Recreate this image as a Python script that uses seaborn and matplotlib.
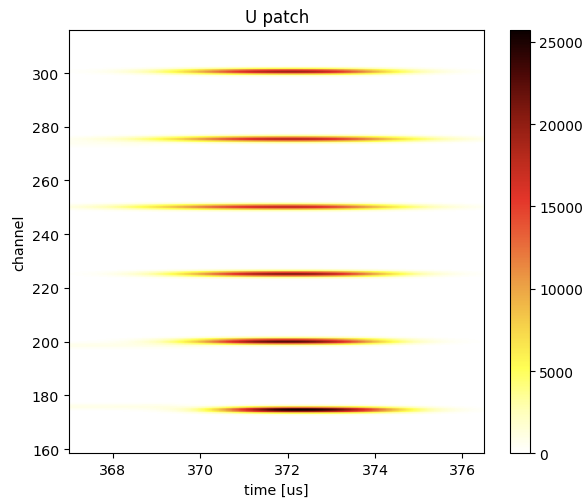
import numpy as np
import pandas as pd
import matplotlib
matplotlib.use("Agg")
import matplotlib.pyplot as plt
from matplotlib.colors import LinearSegmentedColormap
import seaborn as sns

# ---- data ----
streak_channel = [174.6, 200.1, 225.2, 250.2, 275.4, 300.6]
streak_peak = [25700, 22500, 20000, 17000, 17500, 19000]
streak_time = [372.25, 372.0, 372.1, 372.0, 372.1, 372.1]
streak_sigma_left = [1.3, 1.5, 1.75, 2.2, 2.0, 1.8]
streak_sigma_right = [1.6, 1.5, 1.6, 1.75, 1.85, 1.6]
streak_shape = [2.3, 2.2, 2.2, 2.1, 2.1, 2.2]
streak_width_ch = [0.75, 0.75, 0.75, 0.75, 0.75, 0.75]

tail_channel = [175.8, 198.6, 273.6]
tail_end = [369.0, 369.5, 368.5]
tail_amp = [900, 800, 500]

time_range = (367.0, 376.5)
channel_range = (158.4, 315.9)
x_ticks = [368, 370, 372, 374, 376]
y_ticks = [160, 180, 200, 220, 240, 260, 280, 300]
cbar_ticks = [0, 5000, 10000, 15000, 20000, 25000]

# ---- grid ----
dt, dc = 0.02, 0.25
t_edges = np.arange(time_range[0], time_range[1] + dt / 2, dt)
c_edges = np.arange(channel_range[0], channel_range[1] + dc / 2, dc)
t = (t_edges[:-1] + t_edges[1:]) / 2
c = (c_edges[:-1] + c_edges[1:]) / 2
T, C = np.meshgrid(t, c)

Z = np.zeros_like(T)
for ch, A, tc, sl, sr, p, w in zip(streak_channel, streak_peak, streak_time,
                                   streak_sigma_left, streak_sigma_right,
                                   streak_shape, streak_width_ch):
    d = T - tc
    sig = np.where(d < 0, sl, sr)
    Z += A * np.exp(-0.5 * np.abs(d / sig) ** p) * np.exp(-0.5 * ((C - ch) / w) ** 2)
for ch, te, A in zip(tail_channel, tail_end, tail_amp):
    prof = np.exp(-0.5 * (np.clip(T - te, 0, None) / 0.5) ** 2)
    Z += A * prof * np.exp(-0.5 * ((C - ch) / 0.8) ** 2)

df = pd.DataFrame(Z, index=c, columns=t)

# colour map sampled from the reference colour bar (white -> yellow -> red -> black)
cmap = LinearSegmentedColormap.from_list("ref_hot", [
    (0.00, "#ffffff"), (0.10, "#ffffb8"), (0.20, "#ffff55"), (0.30, "#f6d24a"),
    (0.40, "#eb9f45"), (0.50, "#e8683a"), (0.60, "#e4352a"), (0.70, "#b82a1c"),
    (0.80, "#861a10"), (0.90, "#4a0806"), (1.00, "#0c0000")])

# ---- figure ----
W, H = 585, 502
fig = plt.figure(figsize=(W / 100, H / 100), dpi=100)
ax = fig.add_axes([69 / W, (H - 454.3) / H, (484.3 - 69) / W, (454.3 - 31.3) / H])
cax = fig.add_axes([510 / W, (H - 454.3) / H, 20 / W, (454.3 - 31.3) / H])

sns.heatmap(df, ax=ax, cbar_ax=cax, cmap=cmap, vmin=0, vmax=max(streak_peak),
            xticklabels=False, yticklabels=False, linewidths=0, rasterized=True)

ax.set_ylim(0, len(c))
ax.set_xlim(0, len(t))
ax.set_xticks([(v - time_range[0]) / dt for v in x_ticks])
ax.set_xticklabels([str(v) for v in x_ticks])
ax.set_yticks([(v - channel_range[0]) / dc for v in y_ticks])
ax.set_yticklabels([str(v) for v in y_ticks], rotation=0)
ax.tick_params(axis="both", direction="out", length=3.5, width=0.8, labelsize=10.3,
               color="black", labelcolor="black")
for s in ax.spines.values():
    s.set_visible(True)
    s.set_color("black")
    s.set_linewidth(0.8)
ax.set_xlabel("time [us]", fontsize=10.3)
ax.set_ylabel("channel", fontsize=10.3)
ax.set_title("U patch", fontsize=12)

cb = ax.collections[0].colorbar
cb.set_ticks(cbar_ticks)
cb.set_ticklabels([str(v) for v in cbar_ticks])
cb.outline.set_visible(True)
cb.outline.set_linewidth(0.8)
cb.outline.set_edgecolor("black")
cax.tick_params(labelsize=10, length=3.5, width=0.8, pad=3)

fig.savefig("out.png", dpi=100)
